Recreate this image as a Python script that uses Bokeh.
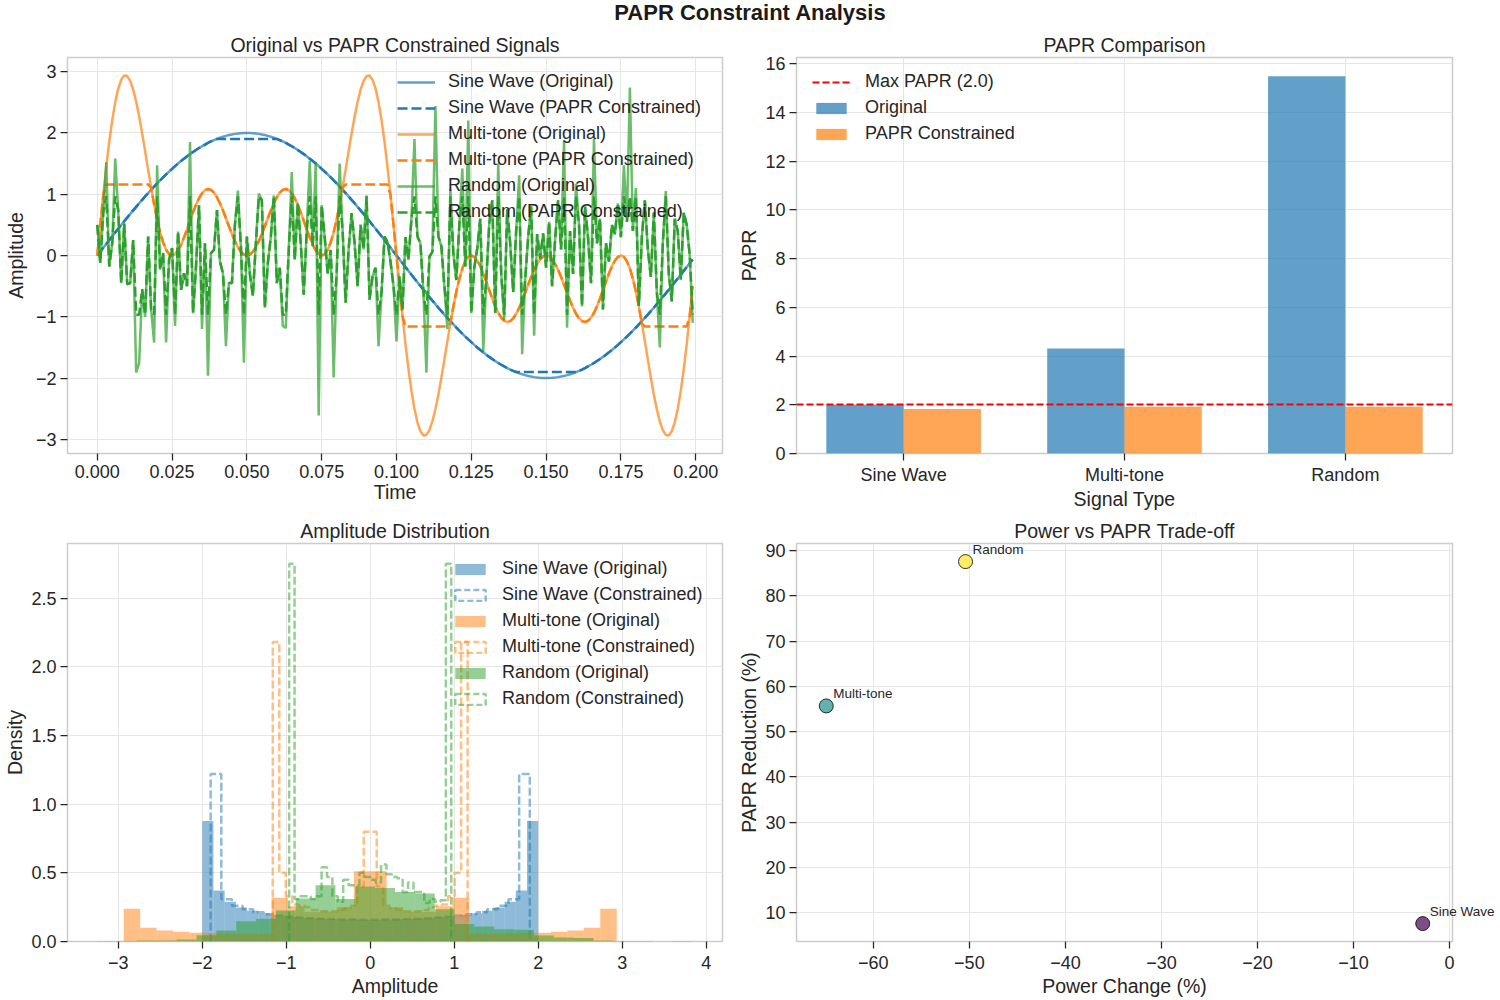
import numpy as np
from bokeh.plotting import figure
from bokeh.models import (Legend, LegendItem, FixedTicker, Range1d,
                          Div, CustomJSTickFormatter)
from bokeh.core.properties import value
from bokeh.layouts import column, row
from bokeh.embed import file_html
from bokeh.resources import INLINE

FONT = "Liberation Sans"
INK = "#262626"
BLUE, ORANGE, GREEN = "#1f77b4", "#ff7f0e", "#2ca02c"

# ------------------------------------------------------------------ data
SAMPLE_STEP = 0.001  # seconds between samples of the shown signals

sine_wave = [
    0.000, 0.063, 0.126, 0.188, 0.251, 0.313, 0.375, 0.436, 0.497, 0.558,
    0.618, 0.677, 0.736, 0.794, 0.852, 0.908, 0.964, 1.018, 1.072, 1.124,
    1.176, 1.226, 1.275, 1.323, 1.369, 1.414, 1.458, 1.500, 1.541, 1.580,
    1.618, 1.654, 1.689, 1.722, 1.753, 1.782, 1.810, 1.836, 1.860, 1.882,
    1.902, 1.921, 1.937, 1.952, 1.965, 1.975, 1.984, 1.991, 1.996, 1.999,
    2.000, 1.999, 1.996, 1.991, 1.984, 1.975, 1.965, 1.952, 1.937, 1.921,
    1.902, 1.882, 1.860, 1.836, 1.810, 1.782, 1.753, 1.722, 1.689, 1.654,
    1.618, 1.580, 1.541, 1.500, 1.458, 1.414, 1.369, 1.323, 1.275, 1.226,
    1.176, 1.124, 1.072, 1.018, 0.964, 0.908, 0.852, 0.794, 0.736, 0.677,
    0.618, 0.558, 0.497, 0.436, 0.375, 0.313, 0.251, 0.188, 0.126, 0.063,
    0.000, -0.063, -0.126, -0.188, -0.251, -0.313, -0.375, -0.436, -0.497, -0.558,
    -0.618, -0.677, -0.736, -0.794, -0.852, -0.908, -0.964, -1.018, -1.072, -1.124,
    -1.176, -1.226, -1.275, -1.323, -1.369, -1.414, -1.458, -1.500, -1.541, -1.580,
    -1.618, -1.654, -1.689, -1.722, -1.753, -1.782, -1.810, -1.836, -1.860, -1.882,
    -1.902, -1.921, -1.937, -1.952, -1.965, -1.975, -1.984, -1.991, -1.996, -1.999,
    -2.000, -1.999, -1.996, -1.991, -1.984, -1.975, -1.965, -1.952, -1.937, -1.921,
    -1.902, -1.882, -1.860, -1.836, -1.810, -1.782, -1.753, -1.722, -1.689, -1.654,
    -1.618, -1.580, -1.541, -1.500, -1.458, -1.414, -1.369, -1.323, -1.275, -1.226,
    -1.176, -1.124, -1.072, -1.018, -0.964, -0.908, -0.852, -0.794, -0.736, -0.677,
    -0.618, -0.558, -0.497, -0.436, -0.375, -0.313, -0.251, -0.188, -0.126, -0.063,
]

multi_tone = [
    0.000, 0.500, 0.985, 1.440, 1.852, 2.209, 2.501, 2.722, 2.867, 2.935,
    2.927, 2.848, 2.706, 2.508, 2.266, 1.992, 1.699, 1.400, 1.108, 0.834,
    0.588, 0.379, 0.213, 0.094, 0.023, 0.000, 0.022, 0.082, 0.176, 0.294,
    0.427, 0.567, 0.703, 0.828, 0.934, 1.015, 1.066, 1.085, 1.071, 1.026,
    0.951, 0.853, 0.736, 0.608, 0.477, 0.350, 0.234, 0.136, 0.062, 0.016,
    0.000, 0.016, 0.062, 0.136, 0.234, 0.350, 0.477, 0.608, 0.736, 0.853,
    0.951, 1.026, 1.071, 1.085, 1.066, 1.015, 0.934, 0.828, 0.703, 0.567,
    0.427, 0.294, 0.176, 0.082, 0.022, 0.000, 0.023, 0.094, 0.213, 0.379,
    0.588, 0.834, 1.108, 1.400, 1.699, 1.992, 2.266, 2.508, 2.706, 2.848,
    2.927, 2.935, 2.867, 2.722, 2.501, 2.209, 1.852, 1.440, 0.985, 0.500,
    0.000, -0.500, -0.985, -1.440, -1.852, -2.209, -2.501, -2.722, -2.867, -2.935,
    -2.927, -2.848, -2.706, -2.508, -2.266, -1.992, -1.699, -1.400, -1.108, -0.834,
    -0.588, -0.379, -0.213, -0.094, -0.023, 0.000, -0.022, -0.082, -0.176, -0.294,
    -0.427, -0.567, -0.703, -0.828, -0.934, -1.015, -1.066, -1.085, -1.071, -1.026,
    -0.951, -0.853, -0.736, -0.608, -0.477, -0.350, -0.234, -0.136, -0.062, -0.016,
    0.000, -0.016, -0.062, -0.136, -0.234, -0.350, -0.477, -0.608, -0.736, -0.853,
    -0.951, -1.026, -1.071, -1.085, -1.066, -1.015, -0.934, -0.828, -0.703, -0.567,
    -0.427, -0.294, -0.176, -0.082, -0.022, 0.000, -0.023, -0.094, -0.213, -0.379,
    -0.588, -0.834, -1.108, -1.400, -1.699, -1.992, -2.266, -2.508, -2.706, -2.848,
    -2.927, -2.935, -2.867, -2.722, -2.501, -2.209, -1.852, -1.440, -0.985, -0.500,
]

random_signal = [
    0.50, -0.12, 0.70, 1.52, -0.18, 0.20, 1.58, 0.74, -0.45, 0.52,
    -0.47, -0.45, 0.25, -1.91, -1.75, -0.55, -1.00, 0.31, -0.88, -1.42,
    1.47, -0.23, 0.04, -1.42, -0.07, 0.12, -1.15, 0.39, -0.56, -0.29,
    -0.50, 1.85, -0.94, -0.18, 0.82, -1.20, 0.20, -1.96, 0.04, 0.09,
    0.74, -0.10, -0.29, -1.48, -0.45, -0.45, 0.50, 1.06, 0.15, -1.75,
    0.31, -0.30, -0.66, 0.20, 1.01, 0.90, -0.85, -0.12, 0.30, 0.98,
    -0.45, -0.20, -1.15, -1.18, 0.10, 1.36, -0.07, 0.85, 0.20, -0.64,
    0.40, 1.55, 0.15, 1.52, -2.61, 0.82, 0.30, -0.29, 0.09, -1.99,
    -0.30, 1.50, 0.40, -0.77, 0.10, 0.69, 0.20, -0.50, 0.50, 0.10,
    0.98, -0.72, -0.34, -0.20, -1.48, -0.60, 0.31, 0.22, -0.10, -0.50,
    -1.40, -0.34, -0.88, 0.30, -0.07, 0.60, 1.90, 0.31, 0.20, -0.60,
    -1.91, -0.02, 0.06, 2.44, 0.31, 0.15, -0.50, -1.20, 1.09, 0.04,
    -0.40, 0.50, 1.42, -0.18, 2.20, -0.94, -0.20, 0.12, 0.60, -1.56,
    -0.40, 0.52, 0.90, -0.94, 1.50, -0.30, -1.05, 0.75, 0.20, -0.60,
    0.40, 1.31, -1.61, -0.40, 0.30, 0.80, -1.31, 0.35, -0.05, 0.36,
    -0.20, 0.55, -0.50, 0.25, 0.90, 0.10, 1.88, -1.18, 0.40, -0.30,
    1.17, 0.50, -0.83, 0.80, 0.30, -0.45, 1.90, 0.20, 0.60, -0.88,
    0.20, -0.10, 0.50, 0.35, 0.85, 0.30, 1.47, 0.55, 2.74, 0.40,
    1.10, -0.82, 0.30, 0.90, 0.10, -0.35, 0.70, -0.60, -1.50, 0.20,
    1.05, -0.30, -0.75, 0.60, 0.40, -0.40, 0.70, 0.50, 0.00, -1.10,
]

signal_names = ["Sine Wave", "Multi-tone", "Random"]
clip_levels = [1.90, 1.16, 0.965]          # amplitude limit of each constrained signal

papr_original = [2.00, 4.31, 15.48]
papr_constrained = [1.83, 1.92, 1.92]
max_papr = 2.0

power_change_pct = [-2.8, -64.9, -50.4]
papr_reduction_pct = [7.6, 55.7, 87.6]
point_colors = ["#440154", "#21918c", "#fde725"]

# 30-bin density histograms: (range low, range high) and bin densities
hist_sine_orig_range = (-2.0, 2.0)
hist_sine_orig = [0.877, 0.371, 0.289, 0.247, 0.224, 0.206, 0.193, 0.184, 0.177, 0.171,
                  0.167, 0.164, 0.162, 0.160, 0.159, 0.159, 0.160, 0.162, 0.164, 0.167,
                  0.171, 0.177, 0.184, 0.193, 0.206, 0.224, 0.247, 0.289, 0.371, 0.877]
hist_sine_con_range = (-1.90, 1.90)
hist_sine_con = [1.220, 0.308, 0.261, 0.234, 0.213, 0.199, 0.189, 0.181, 0.175, 0.170,
                 0.166, 0.163, 0.161, 0.160, 0.159, 0.159, 0.160, 0.161, 0.163, 0.166,
                 0.170, 0.175, 0.181, 0.189, 0.199, 0.213, 0.234, 0.261, 0.308, 1.220]
hist_multi_orig_range = (-2.935, 2.935)
hist_multi_orig = [0.238, 0.101, 0.080, 0.071, 0.064, 0.061, 0.058, 0.057, 0.056, 0.318,
                   0.256, 0.217, 0.218, 0.249, 0.512, 0.512, 0.249, 0.218, 0.217, 0.256,
                   0.318, 0.056, 0.057, 0.058, 0.061, 0.064, 0.071, 0.080, 0.101, 0.238]
hist_multi_con_range = (-1.16, 1.16)
hist_multi_con = [2.18, 0.50, 0.33, 0.27, 0.26, 0.25, 0.23, 0.22, 0.22, 0.22,
                  0.23, 0.24, 0.26, 0.40, 0.80, 0.80, 0.40, 0.26, 0.24, 0.23,
                  0.22, 0.22, 0.22, 0.23, 0.25, 0.26, 0.27, 0.33, 0.50, 2.18]
hist_rand_orig_range = (-3.25, 3.84)
hist_rand_orig = [0.004, 0.004, 0.008, 0.008, 0.015, 0.045, 0.080, 0.148, 0.165, 0.226,
                  0.314, 0.410, 0.310, 0.400, 0.390, 0.360, 0.350, 0.235, 0.128, 0.110,
                  0.090, 0.085, 0.044, 0.030, 0.026, 0.008, 0.004, 0.004, 0.000, 0.004]
hist_rand_con_range = (-0.965, 0.965)
hist_rand_con = [2.75, 0.31, 0.33, 0.33, 0.31, 0.33, 0.54, 0.47, 0.33, 0.29,
                 0.45, 0.41, 0.41, 0.50, 0.47, 0.45, 0.43, 0.56, 0.49, 0.47,
                 0.46, 0.36, 0.43, 0.36, 0.36, 0.28, 0.31, 0.29, 0.30, 2.75]

# tick positions
time_ticks = [0.0, 0.025, 0.05, 0.075, 0.1, 0.125, 0.15, 0.175, 0.2]
amp_ticks = [-3, -2, -1, 0, 1, 2, 3]
papr_ticks = [0, 2, 4, 6, 8, 10, 12, 14, 16]
hist_x_ticks = [-3, -2, -1, 0, 1, 2, 3, 4]
hist_y_ticks = [0.0, 0.5, 1.0, 1.5, 2.0, 2.5]
power_ticks = [-60, -50, -40, -30, -20, -10, 0]
reduction_ticks = [10, 20, 30, 40, 50, 60, 70, 80, 90]

# ------------------------------------------------------------------ helpers
def fmt(decimals):
    return CustomJSTickFormatter(
        code="return tick.toFixed(%d).replace('-', '\u2212');" % decimals)


def make_fig(width, height, bl, br, bb, xr, yr, title, xlabel, ylabel,
             y_label_gap, x_gaps):
    p = figure(width=width, height=height, x_range=Range1d(*xr), y_range=Range1d(*yr),
               output_backend="svg", toolbar_location=None, title=title,
               x_axis_label=xlabel, y_axis_label=ylabel,
               min_border_left=bl, min_border_right=br,
               min_border_top=31, min_border_bottom=bb)
    p.title.align = "center"
    p.title.text_font = FONT
    p.title.text_font_size = "19.5px"
    p.title.text_font_style = "normal"
    p.title.text_color = INK
    p.title.standoff = 3
    p.outline_line_color = "#cccccc"
    p.outline_line_width = 1.5
    p.background_fill_color = "white"
    p.border_fill_color = "white"
    for ax in list(p.xaxis) + list(p.yaxis):
        ax.axis_line_color = None
        ax.major_tick_line_color = INK
        ax.major_tick_line_width = 1.25
        ax.major_tick_out = 7
        ax.major_tick_in = 0
        ax.minor_tick_line_color = None
        ax.major_label_text_font = FONT
        ax.major_label_text_font_size = "18px"
        ax.major_label_text_color = INK
        ax.axis_label_text_font = FONT
        ax.axis_label_text_font_size = "19.5px"
        ax.axis_label_text_font_style = "normal"
        ax.axis_label_text_color = INK
    for ax in p.xaxis:
        ax.major_label_standoff = x_gaps[0]
        ax.axis_label_standoff = x_gaps[1]
    for ax in p.yaxis:
        ax.major_label_standoff = 4
        ax.axis_label_standoff = y_label_gap
    for g in list(p.xgrid) + list(p.ygrid):
        g.grid_line_color = "#e6e6e6"
        g.grid_line_width = 1
    return p


def add_legend(p, items, loc, glyph_h, standoff=13):
    leg = Legend(items=items, location=loc, orientation="vertical",
                 background_fill_alpha=0, border_line_alpha=0,
                 label_text_font=FONT, label_text_font_size="18px",
                 label_text_color=INK, glyph_width=38, glyph_height=glyph_h,
                 label_height=20, spacing=5, padding=0, margin=0,
                 label_standoff=standoff)
    p.add_layout(leg)


def hist_edges(rng, heights):
    return np.linspace(rng[0], rng[1], len(heights) + 1)


# ------------------------------------------------------------------ 1. time signals
t = np.arange(len(sine_wave)) * SAMPLE_STEP
signals = [sine_wave, multi_tone, random_signal]
colors = [BLUE, ORANGE, GREEN]

p1 = make_fig(735, 486, 67, 13, 57, (-0.00995, 0.20895), (-3.23, 3.23),
              "Original vs PAPR Constrained Signals", "Time", "Amplitude", 6, (4, 0))
p1.xaxis.ticker = FixedTicker(ticks=time_ticks)
p1.yaxis.ticker = FixedTicker(ticks=amp_ticks)
p1.xaxis.formatter = fmt(3)
p1.yaxis.formatter = fmt(0)

items1 = []
for name, sig, clip, c in zip(signal_names, signals, clip_levels, colors):
    sig = np.array(sig)
    r_o = p1.line(t, sig, line_color=c, line_alpha=0.7, line_width=2.5)
    r_c = p1.line(t, np.clip(sig, -clip, clip), line_color=c, line_width=2.5,
                  line_dash="10 4")
    items1.append(LegendItem(label=f"{name} (Original)", renderers=[r_o]))
    items1.append(LegendItem(label=f"{name} (PAPR Constrained)", renderers=[r_c]))
add_legend(p1, items1, (330, 231), 20)

# ------------------------------------------------------------------ 2. PAPR bars
p2 = make_fig(765, 486, 61, 48, 57, (-0.485, 2.485), (0, 16.25),
              "PAPR Comparison", "Signal Type", "PAPR", 2, (4, 0))
xpos = np.arange(len(signal_names))
bar_w = 0.35
r_b1 = p2.vbar(x=xpos - bar_w / 2, top=papr_original, width=bar_w, bottom=0,
               fill_color=BLUE, fill_alpha=0.7, line_color=None)
r_b2 = p2.vbar(x=xpos + bar_w / 2, top=papr_constrained, width=bar_w, bottom=0,
               fill_color=ORANGE, fill_alpha=0.7, line_color=None)
r_max = p2.hspan(y=[max_papr], line_color="red", line_width=2, line_dash="7 3")
p2.xaxis.ticker = FixedTicker(ticks=[int(v) for v in xpos])
p2.xaxis.major_label_overrides = {int(i): n for i, n in zip(xpos, signal_names)}
p2.yaxis.ticker = FixedTicker(ticks=papr_ticks)
p2.yaxis.formatter = fmt(0)
add_legend(p2, [LegendItem(label=f"Max PAPR ({max_papr:.1f})", renderers=[r_max]),
                LegendItem(label="Original", renderers=[r_b1]),
                LegendItem(label="PAPR Constrained", renderers=[r_b2])],
           (16, 309), 14, standoff=15)

# ------------------------------------------------------------------ 3. histograms
p3 = make_fig(735, 488, 67, 13, 59, (-3.6045, 4.1945), (0, 2.898),
              "Amplitude Distribution", "Amplitude", "Density", 2, (7, 3))
p3.xaxis.ticker = FixedTicker(ticks=hist_x_ticks)
p3.yaxis.ticker = FixedTicker(ticks=hist_y_ticks)
p3.xaxis.formatter = fmt(0)
p3.yaxis.formatter = fmt(1)

hists = [
    ("Sine Wave", BLUE, hist_sine_orig_range, hist_sine_orig, hist_sine_con_range, hist_sine_con),
    ("Multi-tone", ORANGE, hist_multi_orig_range, hist_multi_orig, hist_multi_con_range, hist_multi_con),
    ("Random", GREEN, hist_rand_orig_range, hist_rand_orig, hist_rand_con_range, hist_rand_con),
]
items3 = []
for name, c, r_orig, h_orig, r_con, h_con in hists:
    e = hist_edges(r_orig, h_orig)
    rf = p3.quad(left=e[:-1], right=e[1:], top=h_orig, bottom=0,
                 fill_color=c, fill_alpha=0.5, line_color=None)
    e2 = hist_edges(r_con, h_con)
    xs = np.repeat(e2, 2)
    ys = np.concatenate([[0.0], np.repeat(np.array(h_con), 2), [0.0]])
    p3.line(xs, ys, line_color=c, line_alpha=0.5, line_width=2.5, line_dash="8 3")
    # legend-only key (draws nothing in the frame): unfilled dashed box
    rk = p3.quad(left=[np.nan], right=[np.nan], top=[np.nan], bottom=[np.nan],
                 fill_alpha=0, line_color=c, line_alpha=0.5, line_width=2.5,
                 line_dash="6 3")
    items3.append(LegendItem(label=f"{name} (Original)", renderers=[rf]))
    items3.append(LegendItem(label=f"{name} (Constrained)", renderers=[rk]))
add_legend(p3, items3, (384, 232), 14)

# ------------------------------------------------------------------ 4. trade-off scatter
p4 = make_fig(765, 488, 61, 48, 59, (-68.0, 0.3), (3.64, 91.6),
              "Power vs PAPR Trade-off", "Power Change (%)", "PAPR Reduction (%)", 2, (7, 3))
p4.xaxis.ticker = FixedTicker(ticks=power_ticks)
p4.yaxis.ticker = FixedTicker(ticks=reduction_ticks)
p4.xaxis.formatter = fmt(0)
p4.yaxis.formatter = fmt(0)
p4.scatter(power_change_pct, papr_reduction_pct, size=14, fill_color=point_colors,
           fill_alpha=0.7, line_color="black", line_alpha=0.8, line_width=1)
# point annotations, drawn at overlay level so a label may run past the frame edge
p4.text(x=power_change_pct, y=papr_reduction_pct, text=signal_names,
        x_offset=7, y_offset=-12, text_font=value(FONT), text_font_size="13.5px",
        text_color=INK, text_baseline="middle", text_align="left",
        level="overlay")

# ------------------------------------------------------------------ layout
head = Div(text="PAPR Constraint Analysis", width=1500, height=26, margin=(0, 0, 0, 0),
           styles={"text-align": "center", "font-family": FONT, "font-size": "22px",
                   "font-weight": "bold", "color": "#1a1a1a", "line-height": "25px"})
layout = column(head, row(p1, p2), row(p3, p4))

open("out.html", "w").write(file_html(layout, INLINE))
